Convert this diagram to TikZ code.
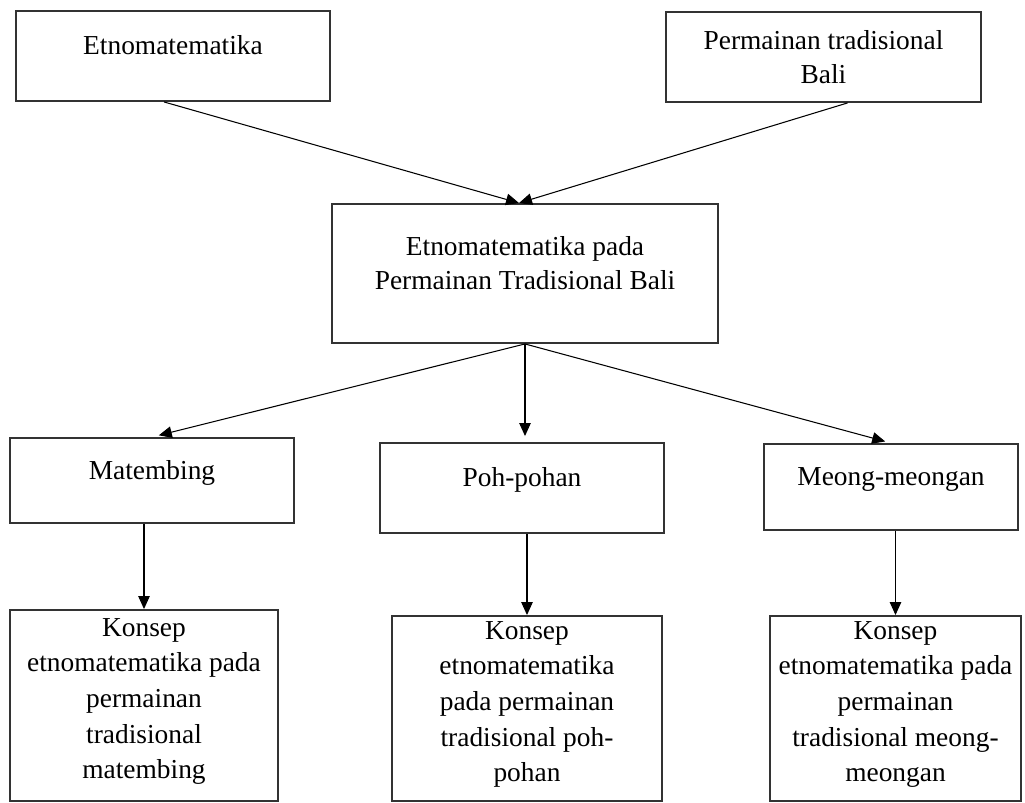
\documentclass[tikz,border=0pt]{standalone}
\usepackage{fontspec}
\setmainfont{Liberation Serif}
\usetikzlibrary{positioning, arrows.meta}

\begin{document}
\begin{tikzpicture}[x=0.02cm, y=-0.02cm,
  kotak/.style={draw=black!80, line width=1.1pt, align=center, inner sep=2pt,
    font=\fontsize{15.6}{19.5}\selectfont, text depth=12pt},
  konsep/.style={kotak, font=\fontsize{15.6}{20.3}\selectfont, text depth=8pt},
  panah/.style={-{Triangle[length=2.6mm,width=2.3mm]}, line width=0.6pt},
]
\useasboundingbox (0,0) rectangle (1025,803);

% --- Top row ---
\node[kotak, minimum width=6.28cm, minimum height=1.80cm] (etno) at (173,56) {Etnomatematika};
\node[kotak, text depth=, minimum width=6.30cm, minimum height=1.80cm] (bali) at (823.5,57) {Permainan tradisional\\Bali};

% --- Centre ---
\node[kotak, minimum width=7.72cm, minimum height=2.78cm] (pusat) at (525,273.5) {Etnomatematika pada\\Permainan Tradisional Bali};

% --- Games ---
\node[kotak, minimum width=5.68cm, minimum height=1.70cm] (matb) at (152,480.5) {Matembing};
\node[kotak, minimum width=5.68cm, minimum height=1.80cm] (poh) at (522,488) {Poh-pohan};
\node[kotak, minimum width=5.08cm, minimum height=1.72cm] (meong) at (891,487) {Meong-meongan};

% --- Concepts ---
\node[konsep, minimum width=5.36cm, minimum height=3.82cm] (kmatb) at (144,705.5) {Konsep\\etnomatematika pada\\permainan\\tradisional\\matembing};
\node[konsep, minimum width=5.40cm, minimum height=3.70cm] (kpoh) at (527,708.5) {Konsep\\etnomatematika\\pada permainan\\tradisional poh-\\pohan};
\node[konsep, minimum width=5.02cm, minimum height=3.70cm] (kmeong) at (895.5,708.5) {Konsep\\etnomatematika pada\\permainan\\tradisional meong-\\meongan};

% --- Arrows ---
\draw[panah] ([xshift=-0.18cm]etno.south) -- ([xshift=-0.12cm]pusat.north);
\draw[panah] ([xshift=0.48cm]bali.south) -- ([xshift=-0.12cm]pusat.north);
\draw[panah, shorten >=1.4mm] (pusat.south) -- (matb.north);
\draw[panah, shorten >=1.2mm] (pusat.south) -- (pusat.south |- poh.north);
\draw[panah, shorten >=1.2mm] (pusat.south) -- (meong.north);
\draw[panah] (matb.south -| kmatb.north) -- (kmatb.north);
\draw[panah] (poh.south -| kpoh.north) -- (kpoh.north);
\draw[panah] (meong.south -| kmeong.north) -- (kmeong.north);

\end{tikzpicture}
\end{document}
